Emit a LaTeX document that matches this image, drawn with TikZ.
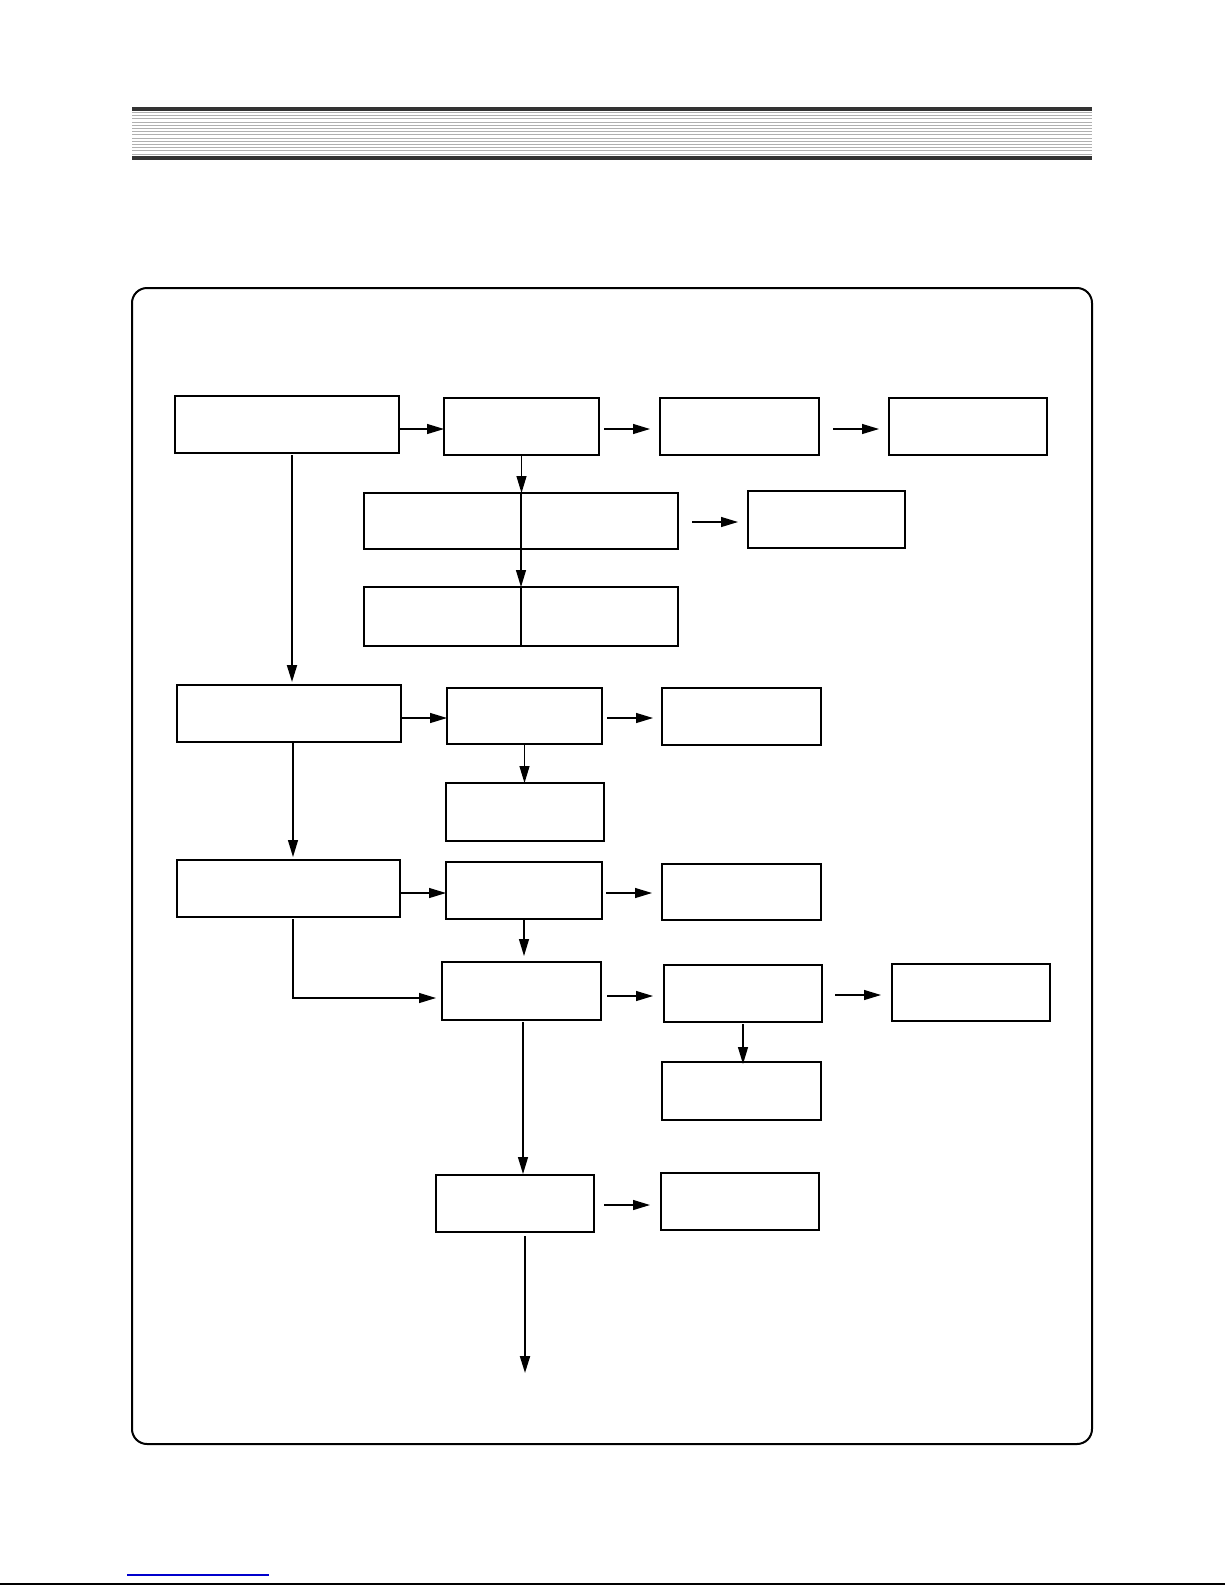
\documentclass[tikz,border=0pt]{standalone}
\usetikzlibrary{arrows.meta}
\definecolor{hdark}{HTML}{333333}
\definecolor{hgray}{HTML}{B0B0B0}
\definecolor{linkblue}{HTML}{0000CC}
\tikzset{
  box/.style={draw=black, line width=0.6pt, rectangle, inner sep=0pt, outer sep=0pt, fill=white},
  arr/.style={draw=black, line width=0.6pt, -{Triangle[length=8.5pt,width=5pt]}},
  thickarr/.style={arr, line width=1pt},
  divider/.style={draw=black, line width=1pt},
  heavyside/.style={draw=black, line width=1pt},
  frame/.style={draw=black, line width=1pt, rounded corners=7.5pt},
}
\newcommand\mkbox[5]{\node[box, minimum width={(#4-#2)*0.5pt}, minimum height={(#5-#3)*0.5pt}] (#1) at ({(#2+#4)/2},{(#3+#5)/2}) {};}
\begin{document}
\begin{tikzpicture}[x=0.5pt,y=-0.5pt]
\useasboundingbox (0,0) rectangle (1225,1585);
% header
\fill[hdark] (132,107) rectangle (1092,111);
\fill[hdark] (132,156) rectangle (1092,160);
\foreach \k in {0,...,13} {
  \draw[hgray, line width=0.5pt] (132,{112.5+\k*3.2}) -- (1092,{112.5+\k*3.2});
}
% frame
\draw[frame] (132,288) rectangle (1092,1444);
% boxes
\mkbox{A1}{175}{396}{399}{453}
\mkbox{B1}{444}{398}{599}{455}
\mkbox{C1}{660}{398}{819}{455}
\mkbox{D1}{889}{398}{1047}{455}
\mkbox{E}{364}{493}{678}{549}
\mkbox{F}{748}{491}{905}{548}
\mkbox{G}{364}{587}{678}{646}
\mkbox{A2}{177}{685}{401}{742}
\mkbox{B2}{447}{688}{602}{744}
\mkbox{C2}{662}{688}{821}{745}
\mkbox{H}{446}{783}{604}{841}
\mkbox{A3}{177}{860}{400}{917}
\mkbox{B3}{446}{862}{602}{919}
\mkbox{C3}{662}{864}{821}{920}
\mkbox{B4}{442}{962}{601}{1020}
\mkbox{C4}{664}{965}{822}{1022}
\mkbox{D4}{892}{964}{1050}{1021}
\mkbox{H4}{662}{1062}{821}{1120}
\mkbox{B5}{436}{1175}{594}{1232}
\mkbox{C5}{661}{1173}{819}{1230}
% dividers and heavier sides
\draw[divider] (E.north) -- (E.south);
\draw[divider] (G.north) -- (G.south);
\draw[heavyside] (A2.north west) -- (A2.south west);
\draw[heavyside] (A3.north east) -- (A3.south east);
\draw[heavyside] (B3.north east) -- (B3.south east);
\draw[heavyside] (B4.north west) -- (B4.north east);
\draw[heavyside] (C5.north east) -- (C5.south east);
% connectors
\draw[arr] ([shift={(0,4.5)}]A1.east) -- ([shift={(0,2.5)}]B1.west);
\draw[arr] ([shift={(5,2.5)}]B1.east) -- ([shift={(-10,2.5)}]C1.west);
\draw[arr] ([shift={(14,2.5)}]C1.east) -- ([shift={(-10,2.5)}]D1.west);
\draw[arr] (B1.south) -- (B1.south |- E.north);
\draw[arr] (E.south) -- (G.north);
\draw[arr] ([shift={(14,1)}]E.east) -- ([shift={(-10,2.5)}]F.west);
\draw[thickarr, shorten >=2.5pt] ([shift={(5,2)}]A1.south) -- ([shift={(5,2)}]A1.south |- A2.north);
\draw[arr] ([shift={(0,4.5)}]A2.east) -- ([shift={(0,2)}]B2.west);
\draw[arr] ([shift={(5,2)}]B2.east) -- ([shift={(-9,1.5)}]C2.west);
\draw[arr] (B2.south) -- (B2.south |- H.north);
\draw[arr, shorten >=1.5pt] ([shift={(4,0)}]A2.south) -- ([shift={(4,0)}]A2.south |- A3.north);
\draw[arr] ([shift={(0,4.5)}]A3.east) -- ([shift={(0,2.5)}]B3.west);
\draw[arr] ([shift={(4,2.5)}]B3.east) -- ([shift={(-10,1)}]C3.west);
\draw[arr, shorten >=3pt] (B3.south) -- (B3.south |- B4.north);
\draw[arr] ([shift={(4.5,2)}]A3.south) |- ([shift={(-6,7)}]B4.west);
\draw[arr] ([shift={(6,5)}]B4.east) -- ([shift={(-11,2.5)}]C4.west);
\draw[arr] ([shift={(13,1.5)}]C4.east) -- ([shift={(-11,2.5)}]D4.west);
\draw[arr] ([shift={(0,2)}]C4.south) -- ([shift={(0,2)}]C4.south |- H4.north);
\draw[arr, shorten >=1.5pt] ([shift={(1.5,2)}]B4.south) -- ([shift={(1.5,2)}]B4.south |- B5.north);
\draw[arr] ([shift={(10,1.5)}]B5.east) -- ([shift={(-11,3.5)}]C5.west);
\coordinate (endpt) at (525,1373);
\draw[thickarr] ([shift={(10,4)}]B5.south) -- (endpt);
% footer
\draw[linkblue, line width=0.6pt] (127,1575) -- (269,1575);
\draw[black, line width=0.6pt] (0,1584) -- (1225,1584);
\end{tikzpicture}
\end{document}
